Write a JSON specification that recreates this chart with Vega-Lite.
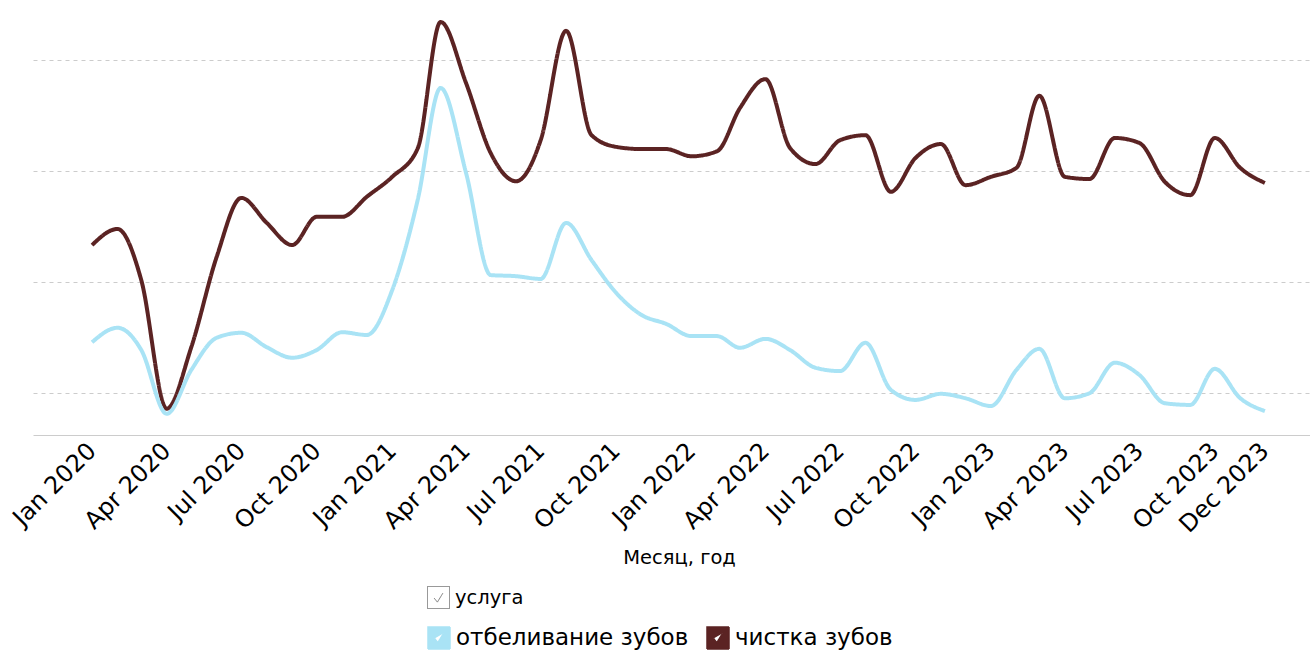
{
  "$schema": "https://vega.github.io/schema/vega-lite/v6.json",
  "width": 1277,
  "height": 435,
  "autosize": {"type": "none"},
  "padding": {"left": 33, "top": 0, "right": 0, "bottom": 224},
  "background": "white",
  "config": {"view": {"stroke": null}, "font": "DejaVu Sans"},
  "data": {"values": [
    {"month": "2020-01-01T00:00", "service": "чистка зубов", "value": 46.6},
    {"month": "2020-02-01T00:00", "service": "чистка зубов", "value": 49.5},
    {"month": "2020-03-01T00:00", "service": "чистка зубов", "value": 40.3},
    {"month": "2020-04-01T00:00", "service": "чистка зубов", "value": 17.1},
    {"month": "2020-05-01T00:00", "service": "чистка зубов", "value": 28.2},
    {"month": "2020-06-01T00:00", "service": "чистка зубов", "value": 44.5},
    {"month": "2020-07-01T00:00", "service": "чистка зубов", "value": 55.1},
    {"month": "2020-08-01T00:00", "service": "чистка зубов", "value": 50.6},
    {"month": "2020-09-01T00:00", "service": "чистка зубов", "value": 46.6},
    {"month": "2020-10-01T00:00", "service": "чистка зубов", "value": 51.7},
    {"month": "2020-11-01T00:00", "service": "чистка зубов", "value": 51.7},
    {"month": "2020-12-01T00:00", "service": "чистка зубов", "value": 55.3},
    {"month": "2021-01-01T00:00", "service": "чистка зубов", "value": 58.9},
    {"month": "2021-02-01T00:00", "service": "чистка зубов", "value": 64.0},
    {"month": "2021-03-01T00:00", "service": "чистка зубов", "value": 86.8},
    {"month": "2021-04-01T00:00", "service": "чистка зубов", "value": 75.8},
    {"month": "2021-05-01T00:00", "service": "чистка зубов", "value": 63.2},
    {"month": "2021-06-01T00:00", "service": "чистка зубов", "value": 58.1},
    {"month": "2021-07-01T00:00", "service": "чистка зубов", "value": 65.5},
    {"month": "2021-08-01T00:00", "service": "чистка зубов", "value": 85.2},
    {"month": "2021-09-01T00:00", "service": "чистка зубов", "value": 66.4},
    {"month": "2021-10-01T00:00", "service": "чистка зубов", "value": 64.3},
    {"month": "2021-11-01T00:00", "service": "чистка зубов", "value": 63.9},
    {"month": "2021-12-01T00:00", "service": "чистка зубов", "value": 63.9},
    {"month": "2022-01-01T00:00", "service": "чистка зубов", "value": 62.6},
    {"month": "2022-02-01T00:00", "service": "чистка зубов", "value": 63.5},
    {"month": "2022-03-01T00:00", "service": "чистка зубов", "value": 71.3},
    {"month": "2022-04-01T00:00", "service": "чистка зубов", "value": 76.5},
    {"month": "2022-05-01T00:00", "service": "чистка зубов", "value": 64.1},
    {"month": "2022-06-01T00:00", "service": "чистка зубов", "value": 61.2},
    {"month": "2022-07-01T00:00", "service": "чистка зубов", "value": 65.5},
    {"month": "2022-08-01T00:00", "service": "чистка зубов", "value": 66.4},
    {"month": "2022-09-01T00:00", "service": "чистка зубов", "value": 56.2},
    {"month": "2022-10-01T00:00", "service": "чистка зубов", "value": 62.3},
    {"month": "2022-11-01T00:00", "service": "чистка зубов", "value": 64.8},
    {"month": "2022-12-01T00:00", "service": "чистка зубов", "value": 57.4},
    {"month": "2023-01-01T00:00", "service": "чистка зубов", "value": 58.9},
    {"month": "2023-02-01T00:00", "service": "чистка зубов", "value": 60.5},
    {"month": "2023-03-01T00:00", "service": "чистка зубов", "value": 73.5},
    {"month": "2023-04-01T00:00", "service": "чистка зубов", "value": 58.9},
    {"month": "2023-05-01T00:00", "service": "чистка зубов", "value": 58.5},
    {"month": "2023-06-01T00:00", "service": "чистка зубов", "value": 65.9},
    {"month": "2023-07-01T00:00", "service": "чистка зубов", "value": 65.0},
    {"month": "2023-08-01T00:00", "service": "чистка зубов", "value": 58.0},
    {"month": "2023-09-01T00:00", "service": "чистка зубов", "value": 55.6},
    {"month": "2023-10-01T00:00", "service": "чистка зубов", "value": 65.9},
    {"month": "2023-11-01T00:00", "service": "чистка зубов", "value": 60.5},
    {"month": "2023-12-01T00:00", "service": "чистка зубов", "value": 57.8},
    {"month": "2020-01-01T00:00", "service": "отбеливание зубов", "value": 29.1},
    {"month": "2020-02-01T00:00", "service": "отбеливание зубов", "value": 31.7},
    {"month": "2020-03-01T00:00", "service": "отбеливание зубов", "value": 27.7},
    {"month": "2020-04-01T00:00", "service": "отбеливание зубов", "value": 16.2},
    {"month": "2020-05-01T00:00", "service": "отбеливание зубов", "value": 24.1},
    {"month": "2020-06-01T00:00", "service": "отбеливание зубов", "value": 29.9},
    {"month": "2020-07-01T00:00", "service": "отбеливание зубов", "value": 30.8},
    {"month": "2020-08-01T00:00", "service": "отбеливание зубов", "value": 28.2},
    {"month": "2020-09-01T00:00", "service": "отбеливание зубов", "value": 26.3},
    {"month": "2020-10-01T00:00", "service": "отбеливание зубов", "value": 27.7},
    {"month": "2020-11-01T00:00", "service": "отбеливание зубов", "value": 30.9},
    {"month": "2020-12-01T00:00", "service": "отбеливание зубов", "value": 30.4},
    {"month": "2021-01-01T00:00", "service": "отбеливание зубов", "value": 38.5},
    {"month": "2021-02-01T00:00", "service": "отбеливание зубов", "value": 54.7},
    {"month": "2021-03-01T00:00", "service": "отбеливание зубов", "value": 74.9},
    {"month": "2021-04-01T00:00", "service": "отбеливание зубов", "value": 59.6},
    {"month": "2021-05-01T00:00", "service": "отбеливание зубов", "value": 41.2},
    {"month": "2021-06-01T00:00", "service": "отбеливание зубов", "value": 41.0},
    {"month": "2021-07-01T00:00", "service": "отбеливание зубов", "value": 40.5},
    {"month": "2021-08-01T00:00", "service": "отбеливание зубов", "value": 50.6},
    {"month": "2021-09-01T00:00", "service": "отбеливание зубов", "value": 43.9},
    {"month": "2021-10-01T00:00", "service": "отбеливание зубов", "value": 38.0},
    {"month": "2021-11-01T00:00", "service": "отбеливание зубов", "value": 34.0},
    {"month": "2021-12-01T00:00", "service": "отбеливание зубов", "value": 32.4},
    {"month": "2022-01-01T00:00", "service": "отбеливание зубов", "value": 30.2},
    {"month": "2022-02-01T00:00", "service": "отбеливание зубов", "value": 30.2},
    {"month": "2022-03-01T00:00", "service": "отбеливание зубов", "value": 28.1},
    {"month": "2022-04-01T00:00", "service": "отбеливание зубов", "value": 29.7},
    {"month": "2022-05-01T00:00", "service": "отбеливание зубов", "value": 27.7},
    {"month": "2022-06-01T00:00", "service": "отбеливание зубов", "value": 24.5},
    {"month": "2022-07-01T00:00", "service": "отбеливание зубов", "value": 23.9},
    {"month": "2022-08-01T00:00", "service": "отбеливание зубов", "value": 29.0},
    {"month": "2022-09-01T00:00", "service": "отбеливание зубов", "value": 20.5},
    {"month": "2022-10-01T00:00", "service": "отбеливание зубов", "value": 18.7},
    {"month": "2022-11-01T00:00", "service": "отбеливание зубов", "value": 19.8},
    {"month": "2022-12-01T00:00", "service": "отбеливание зубов", "value": 19.0},
    {"month": "2023-01-01T00:00", "service": "отбеливание зубов", "value": 17.6},
    {"month": "2023-02-01T00:00", "service": "отбеливание зубов", "value": 24.1},
    {"month": "2023-03-01T00:00", "service": "отбеливание зубов", "value": 27.9},
    {"month": "2023-04-01T00:00", "service": "отбеливание зубов", "value": 19.0},
    {"month": "2023-05-01T00:00", "service": "отбеливание зубов", "value": 19.9},
    {"month": "2023-06-01T00:00", "service": "отбеливание зубов", "value": 25.4},
    {"month": "2023-07-01T00:00", "service": "отбеливание зубов", "value": 23.2},
    {"month": "2023-08-01T00:00", "service": "отбеливание зубов", "value": 18.1},
    {"month": "2023-09-01T00:00", "service": "отбеливание зубов", "value": 17.8},
    {"month": "2023-10-01T00:00", "service": "отбеливание зубов", "value": 24.3},
    {"month": "2023-11-01T00:00", "service": "отбеливание зубов", "value": 19.0},
    {"month": "2023-12-01T00:00", "service": "отбеливание зубов", "value": 16.7}
  ]},
  "mark": {"type": "line", "interpolate": "monotone", "strokeWidth": 4},
  "encoding": {
    "x": {
      "field": "month",
      "type": "temporal",
      "scale": {"domain": [{"year": 2019, "month": 10, "date": 21}, {"year": 2024, "month": 1, "date": 25}]},
      "axis": {
        "values": [
          {"year": 2020, "month": 1, "date": 1}, {"year": 2020, "month": 4, "date": 1}, {"year": 2020, "month": 7, "date": 1}, {"year": 2020, "month": 10, "date": 1},
          {"year": 2021, "month": 1, "date": 1}, {"year": 2021, "month": 4, "date": 1}, {"year": 2021, "month": 7, "date": 1}, {"year": 2021, "month": 10, "date": 1},
          {"year": 2022, "month": 1, "date": 1}, {"year": 2022, "month": 4, "date": 1}, {"year": 2022, "month": 7, "date": 1}, {"year": 2022, "month": 10, "date": 1},
          {"year": 2023, "month": 1, "date": 1}, {"year": 2023, "month": 4, "date": 1}, {"year": 2023, "month": 7, "date": 1}, {"year": 2023, "month": 10, "date": 1},
          {"year": 2023, "month": 12, "date": 1}
        ],
        "format": "%b %Y",
        "labelAngle": -45,
        "labelAlign": "right",
        "labelBaseline": "middle",
        "labelFontSize": 24,
        "labelColor": "black",
        "labelPadding": 12,
        "labelOverlap": false,
        "labelFlush": false,
        "ticks": false,
        "grid": false,
        "domainColor": "#cccccc",
        "domainWidth": 1,
        "title": "Месяц, год",
        "titleFontSize": 19.5,
        "titleFontWeight": "normal",
        "titleColor": "black",
        "titleX": 646,
        "titleY": 122,
        "titleAlign": "center",
        "titleBaseline": "middle"
      }
    },
    "y": {
      "field": "value",
      "type": "quantitative",
      "scale": {"domain": [12.38, 90.76], "nice": false, "zero": false},
      "axis": {
        "values": [20, 40, 60, 80],
        "labels": false,
        "ticks": false,
        "domain": false,
        "title": null,
        "grid": true,
        "gridColor": "#cccccc",
        "gridDash": [4, 4],
        "gridWidth": 1
      }
    },
    "color": {
      "field": "service",
      "type": "nominal",
      "scale": {"domain": ["отбеливание зубов", "чистка зубов"], "range": ["#a9e3f5", "#5b2323"]},
      "legend": {
        "orient": "none",
        "legendX": 394,
        "legendY": 626,
        "direction": "horizontal",
        "title": null,
        "padding": 0,
        "symbolType": "M-1,-1H1V1H-1Z M-0.4,0.05L-0.1,0.42L0.4,-0.4",
        "symbolSize": 484,
        "labelFontSize": 23,
        "labelLimit": 500,
        "labelColor": "black",
        "labelOffset": 5,
        "columnPadding": 15,
        "encode": {
          "symbols": {
            "update": {
              "fill": {"scale": "color", "field": "value"},
              "fillOpacity": {"value": 1},
              "stroke": {"value": "white"},
              "strokeWidth": {"value": 1.5},
              "strokeDash": {"value": [1, 0]},
              "opacity": {"value": 1}
            }
          }
        }
      }
    },
    "strokeDash": {
      "datum": "услуга",
      "type": "nominal",
      "scale": {"range": [[1, 0]]},
      "legend": {
        "orient": "none",
        "legendX": 394,
        "legendY": 586,
        "title": null,
        "padding": 0,
        "symbolType": "M-1,-1H1V1H-1Z M-0.4,0.05L-0.1,0.42L0.4,-0.4",
        "symbolSize": 484,
        "labelFontSize": 19.5,
        "labelLimit": 500,
        "labelColor": "black",
        "labelOffset": 5,
        "encode": {
          "symbols": {
            "update": {
              "fill": {"value": "white"},
              "fillOpacity": {"value": 1},
              "stroke": {"value": "#777777"},
              "strokeWidth": {"value": 1},
              "strokeDash": {"value": [1, 0]},
              "opacity": {"value": 1}
            }
          }
        }
      }
    }
  }
}
